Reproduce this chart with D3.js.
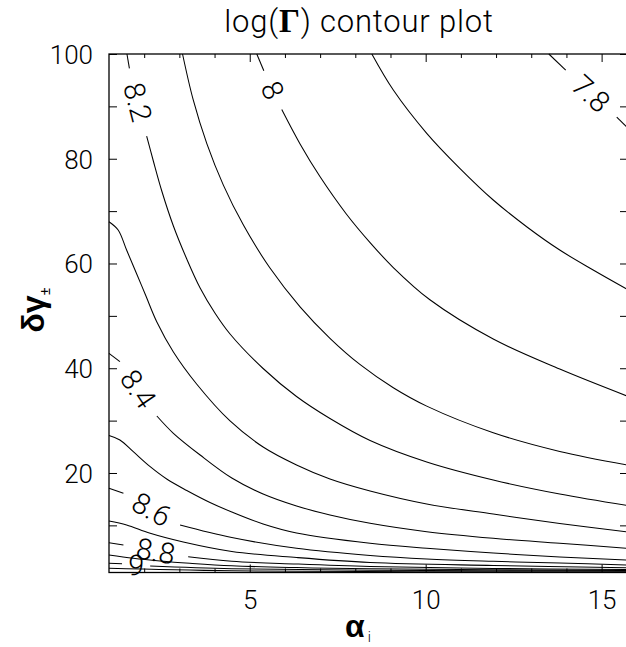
<!DOCTYPE html>
<html><head><meta charset="utf-8">
<script src="https://cdn.jsdelivr.net/npm/d3@7"></script>
<style>
html,body{margin:0;padding:0;background:#fff;}
svg{display:block;}
</style></head><body>
<svg id="chart" width="626" height="647"></svg>
<script>
// ---- data ----
const xDomain = [1, 15.75];
const yDomain = [1, 100];
const xMajorTicks = [5, 10, 15];
const xMinorTicks = [2, 3, 4, 6, 7, 8, 9, 11, 12, 13, 14];
const yMajorTicks = [20, 40, 60, 80, 100];
const yMinorTicks = [10, 30, 50, 70, 90];

// each contour: list of segments, each segment a list of [alpha, deltaGamma]
const c78 = [[[13.5,100],[13.98,96.94]],[[15.43,87.97],[15.74,85.87]]];
const c79 = [[[8.47,100],[9.08,93.12],[10.03,84.86],[10.97,78.17],[11.92,72.12],[12.87,67.02],[13.81,62.57],[14.76,58.76],[15.74,55.03]]];
const c80 = [[[5.2,100],[5.4,96.81]],[[5.91,89.4],[6.43,82.83],[6.99,76.65],[7.75,69.41],[8.42,63.99],[9.08,59.23],[10.12,53.07],[11.92,45.58],[13.81,39.85],[15.74,34.66]]];
const c81 = [[[3.09,100],[3.39,91.33],[3.78,82.89],[4.25,74.97],[4.82,67.33],[5.57,59.18],[6.43,51.73],[7.28,45.72],[8.13,40.73],[9.08,36.28],[10.03,32.77],[11.92,27.69],[13.81,24.12],[15.74,21.53]]];
const c82 = [[[1.51,100],[1.58,97.27]],[[2.07,84.34],[2.26,79.57],[2.5,73.84],[2.83,67.16],[3.21,60.86],[3.59,55.32],[4.01,50.55],[4.44,46.54],[5.38,39.95],[6.33,34.6],[7.28,30.4],[8.42,26.2],[10.03,22.1],[11.92,18.66],[13.81,15.99],[15.74,13.79]]];
const c83 = [[[1.0,67.98],[1.26,66.39],[1.5,62.57],[1.8,57.8],[2.05,53.79],[2.36,48.83],[2.83,43.1],[3.49,36.99],[4.44,29.93],[5.38,24.96],[6.33,21.53],[7.28,18.85],[8.42,16.56],[10.03,14.08],[11.92,12.17],[13.81,10.36],[15.74,8.73]]];
const c84 = [[[1.0,42.85],[1.31,41.25]],[[2.36,30.88],[2.83,27.58],[3.59,23.43],[4.49,19.04],[5.38,15.99],[6.33,13.7],[7.28,11.98],[8.42,10.39],[10.03,8.79],[11.92,7.53],[13.81,6.58],[15.74,5.62]]];
const c85 = [[[1.0,27.16],[1.31,26.3],[1.69,24.06],[2.17,21.2],[2.64,18.85],[3.21,16.66],[3.87,14.37],[4.49,12.55],[5.38,10.26],[6.33,8.54],[8.42,6.58],[10.03,5.62],[11.92,4.72],[13.81,3.96],[15.74,3.39]]];
const c86 = [[[1.0,17.08],[1.41,16.12]],[[3.02,10.07],[4.49,7.68],[6.33,5.62],[8.42,4.25],[10.03,3.58],[11.92,3.14],[13.81,2.81],[15.74,2.43]]];
const c87 = [[[1.0,10.83],[1.5,10.07],[2.17,8.48],[3.11,6.82],[4.49,5.01],[6.33,3.86],[8.42,2.91],[11.92,2.34],[15.74,1.9]]];
const c88 = [[[1.0,6.69],[1.41,6.25]],[[3.25,4.02],[4.49,3.16],[6.33,2.62],[8.42,2.15],[11.92,1.78],[15.74,1.57]]];
const c89 = [[[1.0,4.34],[1.69,3.71],[2.45,3.2],[3.3,2.76],[4.49,2.28],[6.33,1.94],[8.42,1.71],[11.92,1.52],[15.74,1.38]]];
const c90 = [[[1.0,2.76],[1.37,2.66]],[[2.17,2.24],[4.49,1.73],[8.42,1.44],[15.74,1.25]]];
const c91 = [[[1.0,1.8],[4.49,1.32],[15.74,1.1]]];

const contourLevels = [7.8, 7.9, 8.0, 8.1, 8.2, 8.3, 8.4, 8.5, 8.6, 8.7, 8.8, 8.9, 9.0, 9.1];
const contourLabels = ["7.8", "", "8", "", "8.2", "", "8.4", "", "8.6", "", "8.8", "", "9", ""];
const contourSegments = [c78, c79, c80, c81, c82, c83, c84, c85, c86, c87, c88, c89, c90, c91];

// ---- drawing ----
const svg = d3.select("#chart");
const W = 626, H = 647;
const L = 109, R = 628, T = 54, B = 572.5;
const x = d3.scaleLinear().domain(xDomain).range([L, R]);
const y = d3.scaleLinear().domain(yDomain).range([B, T]);

const lightFont = "Roboto, 'Liberation Sans', sans-serif";

svg.append("rect").attr("width", W).attr("height", H).attr("fill", "#fff");

// title
const title = svg.append("text")
  .attr("x", 359).attr("y", 32)
  .attr("text-anchor", "middle")
  .attr("font-family", lightFont).attr("font-weight", 300)
  .attr("font-size", 31).attr("letter-spacing", "0.8px")
  .attr("fill", "#000");
title.append("tspan").text("log(");
title.append("tspan").attr("font-family", "'Liberation Serif', serif").attr("font-weight", "bold").attr("font-size", 33).text("Γ");
title.append("tspan").text(") contour plot");

// contours
const line = d3.line().x(d => x(d[0])).y(d => y(d[1])).curve(d3.curveCatmullRom.alpha(0.5));
const gC = svg.append("g").attr("fill", "none").attr("stroke", "#000").attr("stroke-width", 1.05);
contourSegments.forEach((segs, i) => {
  segs.forEach(seg => {
    gC.append("path").attr("d", line(seg)).attr("data-level", contourLevels[i]);
  });
});

// contour labels placed in the gaps of their lines
const gL = svg.append("g").attr("font-family", lightFont).attr("font-weight", 300)
  .attr("font-size", 29).attr("fill", "#000").attr("text-anchor", "middle");
contourSegments.forEach((segs, i) => {
  const lab = contourLabels[i];
  if (!lab || segs.length < 2) return;
  const a = segs[0][segs[0].length - 1], b = segs[1][0];
  const ax = x(a[0]), ay = y(a[1]), bx = x(b[0]), by = y(b[1]);
  const mx = (ax + bx) / 2, my = (ay + by) / 2;
  const ang = Math.atan2(by - ay, bx - ax) * 180 / Math.PI;
  gL.append("text")
    .attr("transform", `translate(${mx},${my}) rotate(${ang})`)
    .attr("dy", "0.36em")
    .text(lab);
});

// axes
function styleAxis(g) {
  g.select(".domain").remove();
  g.attr("font-family", lightFont).attr("font-weight", 300).attr("font-size", 26).attr("color", "#000");
  g.selectAll(".tick line").attr("stroke-width", 1);
}
const gx = svg.append("g").attr("transform", `translate(0,${B})`)
  .call(d3.axisBottom(x).tickValues(xMajorTicks).tickSizeInner(-8).tickSizeOuter(0).tickPadding(18).tickFormat(d3.format("d")));
styleAxis(gx);
const gx2 = svg.append("g").attr("transform", `translate(0,${B})`)
  .call(d3.axisBottom(x).tickValues(xMinorTicks).tickSizeInner(-4).tickSizeOuter(0).tickFormat(""));
styleAxis(gx2);
const gxt = svg.append("g").attr("transform", `translate(0,${T})`)
  .call(d3.axisTop(x).tickValues(xMajorTicks).tickSizeInner(-8).tickSizeOuter(0).tickFormat(""));
styleAxis(gxt);
const gxt2 = svg.append("g").attr("transform", `translate(0,${T})`)
  .call(d3.axisTop(x).tickValues(xMinorTicks).tickSizeInner(-4).tickSizeOuter(0).tickFormat(""));
styleAxis(gxt2);

const gy = svg.append("g").attr("transform", `translate(${L},0)`)
  .call(d3.axisLeft(y).tickValues(yMajorTicks).tickSizeInner(-8).tickSizeOuter(0).tickPadding(16).tickFormat(d3.format("d")));
styleAxis(gy);
gy.selectAll(".tick text").attr("dy", "0.36em");
const gy2 = svg.append("g").attr("transform", `translate(${L},0)`)
  .call(d3.axisLeft(y).tickValues(yMinorTicks).tickSizeInner(-8).tickSizeOuter(0).tickFormat(""));
styleAxis(gy2);
const gyr = svg.append("g").attr("transform", `translate(${R},0)`)
  .call(d3.axisRight(y).tickValues(yMajorTicks.concat(yMinorTicks)).tickSizeInner(-8).tickSizeOuter(0).tickFormat(""));
styleAxis(gyr);

// frame
svg.append("rect").attr("x", L).attr("y", T).attr("width", R - L).attr("height", B - T)
  .attr("fill", "none").attr("stroke", "#000").attr("stroke-width", 1.3);

// axis titles
const xt = svg.append("text").attr("x", 345).attr("y", 637)
  .attr("font-family", "'Liberation Sans', sans-serif").attr("font-weight", "bold")
  .attr("font-size", 32).attr("fill", "#000");
xt.append("tspan").text("α");
xt.append("tspan").attr("font-family", lightFont).attr("font-weight", 300).attr("font-size", 14).attr("dy", 5).attr("dx", 3).text("i");

const yt = svg.append("text")
  .attr("transform", "translate(44,310) rotate(-90)")
  .attr("text-anchor", "middle")
  .attr("font-family", "'Liberation Sans', sans-serif").attr("font-weight", "bold")
  .attr("font-size", 32).attr("fill", "#000");
yt.append("tspan").text("δγ");
yt.append("tspan").attr("font-family", lightFont).attr("font-weight", 400).attr("font-size", 15).attr("dy", 6).text("±");
</script>
</body></html>
